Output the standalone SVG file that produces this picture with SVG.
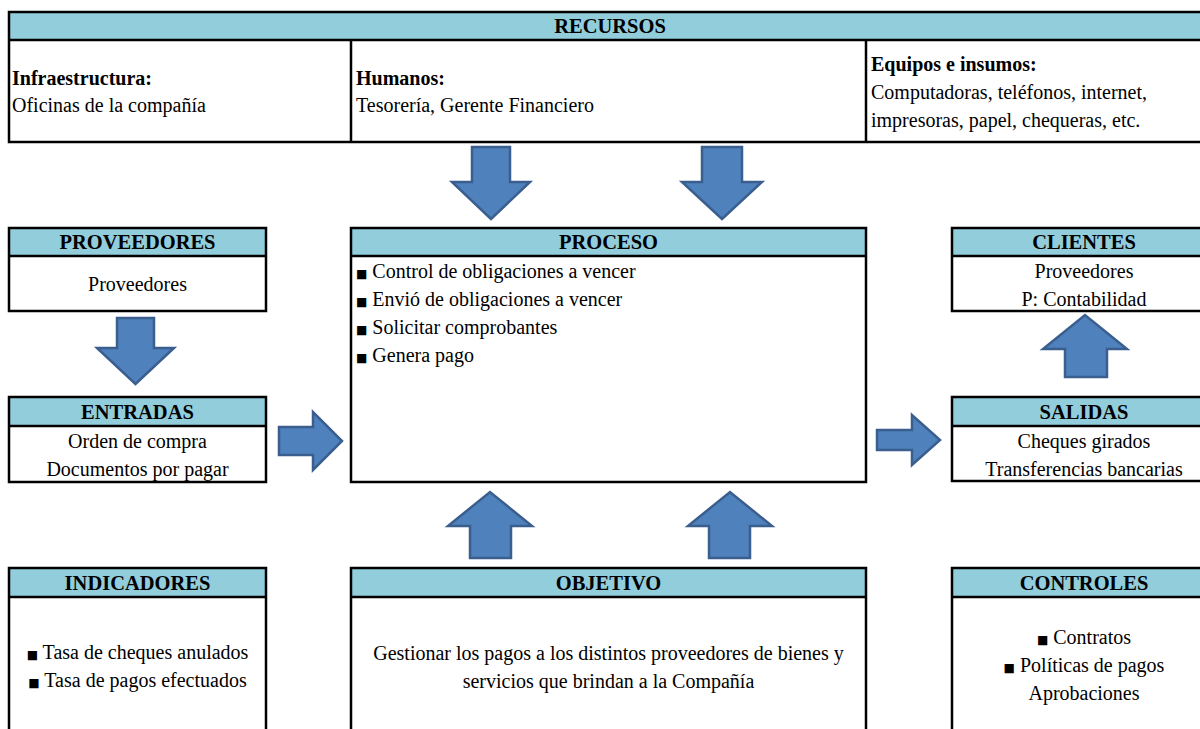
<svg xmlns="http://www.w3.org/2000/svg" width="1200" height="729" viewBox="0 0 1200 729">
  <defs>
    <style>
      text { font-family: "Liberation Serif", "Times New Roman", serif; fill: #000; }
      .hdr { fill: #92CDDC; stroke: none; }
      .frame { fill: none; stroke: #000; stroke-width: 2.5; }
      .sep { stroke: #000; stroke-width: 2.5; }
      .title { font-size: 20.5px; font-weight: bold; text-anchor: middle; }
      .lbl { font-size: 20px; font-weight: bold; }
      .body { font-size: 20px; }
      .mid { text-anchor: middle; }
      .blt { font-size: 12px; font-family: "DejaVu Sans", sans-serif; }
      .arrow { fill: #4F81BD; stroke: #3A5F8E; stroke-width: 2.5; stroke-linejoin: miter; }
    </style>
  </defs>
  <rect width="1200" height="729" fill="#fff"/>

  <!-- Resources table -->
  <g id="recursos">
    <rect class="hdr" x="9" y="12" width="1200" height="28"/>
    <rect class="frame" x="9" y="12" width="1220" height="130"/>
    <line class="sep" x1="9" y1="40" x2="1210" y2="40"/>
    <line class="sep" x1="351" y1="40" x2="351" y2="142"/>
    <line class="sep" x1="866" y1="40" x2="866" y2="142"/>
    <text class="title" x="610" y="33">RECURSOS</text>
    <text class="lbl" x="12" y="85">Infraestructura:</text>
    <text class="body" x="12" y="112">Oficinas de la compañía</text>
    <text class="lbl" x="356" y="85">Humanos:</text>
    <text class="body" x="356" y="112">Tesorería, Gerente Financiero</text>
    <text class="lbl" x="871" y="71">Equipos e insumos:</text>
    <text class="body" x="871" y="99">Computadoras, teléfonos, internet,</text>
    <text class="body" x="871" y="127">impresoras, papel, chequeras, etc.</text>
  </g>

  <!-- Suppliers -->
  <g id="proveedores">
    <rect class="hdr" x="9" y="228" width="257" height="28"/>
    <rect class="frame" x="9" y="228" width="257" height="83"/>
    <line class="sep" x1="9" y1="256" x2="266" y2="256"/>
    <text class="title" x="137.5" y="249">PROVEEDORES</text>
    <text class="body mid" x="137.5" y="291">Proveedores</text>
  </g>

  <!-- Inputs -->
  <g id="entradas">
    <rect class="hdr" x="9" y="397" width="257" height="29"/>
    <rect class="frame" x="9" y="397" width="257" height="85"/>
    <line class="sep" x1="9" y1="426" x2="266" y2="426"/>
    <text class="title" x="137.5" y="419">ENTRADAS</text>
    <text class="body mid" x="137.5" y="448">Orden de compra</text>
    <text class="body mid" x="137.5" y="476">Documentos por pagar</text>
  </g>

  <!-- Process -->
  <g id="proceso">
    <rect class="hdr" x="351" y="228" width="515" height="28"/>
    <rect class="frame" x="351" y="228" width="515" height="254"/>
    <line class="sep" x1="351" y1="256" x2="866" y2="256"/>
    <text class="title" x="608.5" y="249">PROCESO</text>
    <text class="body" x="356" y="278"><tspan class="blt">■</tspan> Control de obligaciones a vencer</text>
    <text class="body" x="356" y="306"><tspan class="blt">■</tspan> Envió de obligaciones a vencer</text>
    <text class="body" x="356" y="334"><tspan class="blt">■</tspan> Solicitar comprobantes</text>
    <text class="body" x="356" y="362"><tspan class="blt">■</tspan> Genera pago</text>
  </g>

  <!-- Customers -->
  <g id="clientes">
    <rect class="hdr" x="952" y="228" width="264" height="28"/>
    <rect class="frame" x="952" y="228" width="264" height="83"/>
    <line class="sep" x1="952" y1="256" x2="1216" y2="256"/>
    <text class="title" x="1084" y="249">CLIENTES</text>
    <text class="body mid" x="1084" y="278">Proveedores</text>
    <text class="body mid" x="1084" y="306">P: Contabilidad</text>
  </g>

  <!-- Outputs -->
  <g id="salidas">
    <rect class="hdr" x="952" y="397" width="264" height="29"/>
    <rect class="frame" x="952" y="397" width="264" height="84"/>
    <line class="sep" x1="952" y1="426" x2="1216" y2="426"/>
    <text class="title" x="1084" y="419">SALIDAS</text>
    <text class="body mid" x="1084" y="448">Cheques girados</text>
    <text class="body mid" x="1084" y="476">Transferencias bancarias</text>
  </g>

  <!-- Indicators -->
  <g id="indicadores">
    <rect class="hdr" x="9" y="568" width="257" height="29"/>
    <rect class="frame" x="9" y="568" width="257" height="200"/>
    <line class="sep" x1="9" y1="597" x2="266" y2="597"/>
    <text class="title" x="137.5" y="590">INDICADORES</text>
    <text class="body mid" x="137.5" y="659"><tspan class="blt">■</tspan> Tasa de cheques anulados</text>
    <text class="body mid" x="137.5" y="687"><tspan class="blt">■</tspan> Tasa de pagos efectuados</text>
  </g>

  <!-- Objective -->
  <g id="objetivo">
    <rect class="hdr" x="351" y="568" width="515" height="29"/>
    <rect class="frame" x="351" y="568" width="515" height="200"/>
    <line class="sep" x1="351" y1="597" x2="866" y2="597"/>
    <text class="title" x="608.5" y="590">OBJETIVO</text>
    <text class="body mid" x="608.5" y="660">Gestionar los pagos a los distintos proveedores de bienes y</text>
    <text class="body mid" x="608.5" y="688">servicios que brindan a la Compañía</text>
  </g>

  <!-- Controls -->
  <g id="controles">
    <rect class="hdr" x="952" y="568" width="264" height="29"/>
    <rect class="frame" x="952" y="568" width="264" height="200"/>
    <line class="sep" x1="952" y1="597" x2="1216" y2="597"/>
    <text class="title" x="1084" y="590">CONTROLES</text>
    <text class="body mid" x="1084" y="644"><tspan class="blt">■</tspan> Contratos</text>
    <text class="body mid" x="1084" y="672"><tspan class="blt">■</tspan> Políticas de pagos</text>
    <text class="body mid" x="1084" y="700">Aprobaciones</text>
  </g>

  <!-- Block arrows -->
  <g id="connectors">
    <path class="arrow" d="M472,147 H510 V182 H530 L491,219 L452,182 H472 Z"/>
    <path class="arrow" d="M702,147 H742 V182 H762 L722,219 L682,182 H702 Z"/>
    <path class="arrow" d="M117,318 H154 V348 H174 L135.5,384 L97,348 H117 Z"/>
    <path class="arrow" d="M279,427 H313 V412 L342,441 L313,470 V455 H279 Z"/>
    <path class="arrow" d="M877,430 H912 V415 L940,440 L912,465 V450 H877 Z"/>
    <path class="arrow" d="M1065,377 V349 H1043 L1085,315 L1127,349 H1107 V377 Z"/>
    <path class="arrow" d="M470,558 V526 H448 L490,492 L532,526 H511 V558 Z"/>
    <path class="arrow" d="M709,558 V526 H688 L730,492 L772,526 H750 V558 Z"/>
  </g>
</svg>
